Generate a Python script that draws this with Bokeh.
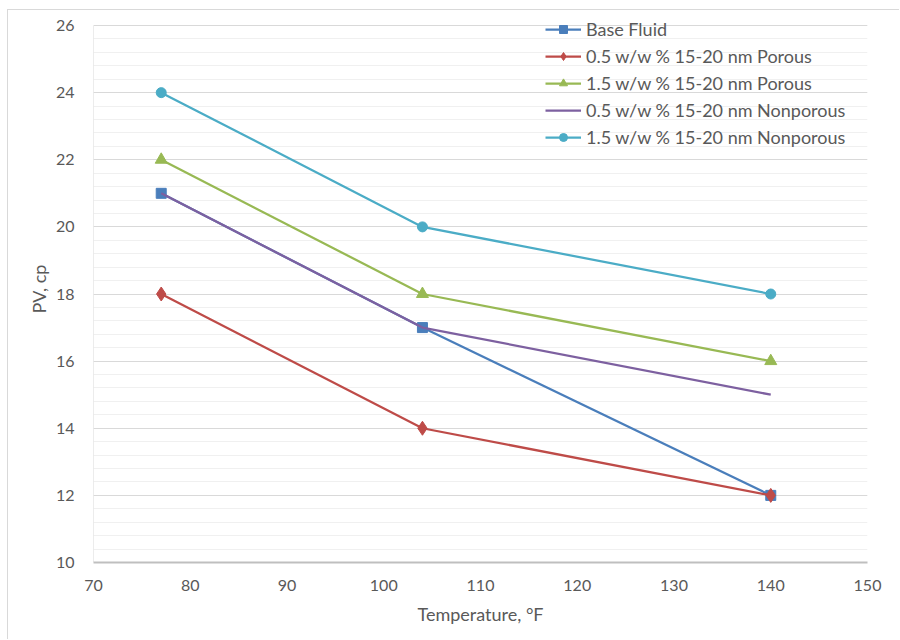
from bokeh.plotting import figure
from bokeh.models import (Legend, LegendItem, SingleIntervalTicker, FixedTicker, Range1d)
from bokeh.embed import file_html
from bokeh.resources import INLINE

# Temperatures (°F) and plastic viscosity (cp) for each fluid
temperature = [77, 104, 140]
base_fluid = [21, 17, 12]
porous_05 = [18, 14, 12]
porous_15 = [22, 18, 16]
nonporous_05 = [21, 17, 15]
nonporous_15 = [24, 20, 18]

series_names = [
    "Base Fluid",
    "0.5 w/w % 15-20 nm Porous",
    "1.5 w/w % 15-20 nm Porous",
    "0.5 w/w % 15-20 nm Nonporous",
    "1.5 w/w % 15-20 nm Nonporous",
]
x_ticks = [70, 80, 90, 100, 110, 120, 130, 140, 150]
y_min, y_max = 10, 26

FONT = "Lato"
TEXT = "#595959"

# a little headroom above the top gridline leaves space for the legend
p = figure(
    width=892, height=630,
    x_range=Range1d(70, 150), y_range=Range1d(y_min, y_max + 0.298),
    output_backend="svg", toolbar_location=None,
    min_border_left=85, min_border_right=33, min_border_top=5, min_border_bottom=78,
)
p.margin = (9, 0, 0, 7)
p.styles = {"border-left": "1px solid #d9d9d9", "border-top": "1px solid #d9d9d9"}
p.outline_line_color = None
p.background_fill_color = "white"
p.border_fill_color = "white"

# grid: horizontal only, major every 2, lighter minor lines between
p.xgrid.grid_line_color = None
p.yaxis.ticker = SingleIntervalTicker(interval=2, num_minor_ticks=5)
p.ygrid.grid_line_color = "#d9d9d9"
p.ygrid.grid_line_width = 1
p.ygrid.minor_grid_line_color = "#f0f0f0"
p.ygrid.minor_grid_line_width = 1
p.xaxis.ticker = FixedTicker(ticks=x_ticks)

for ax in (p.xaxis[0], p.yaxis[0]):
    ax.major_tick_line_color = None
    ax.minor_tick_line_color = None
    ax.major_label_text_font = FONT
    ax.major_label_text_font_size = "16px"
    ax.major_label_text_color = TEXT
    ax.axis_label_text_font = FONT
    ax.axis_label_text_font_size = "18px"
    ax.axis_label_text_font_style = "normal"
    ax.axis_label_text_color = TEXT

# left axis line stops at the top gridline
p.yaxis.axis_line_color = None
p.segment(x0=[70], y0=[y_min], x1=[70], y1=[y_max], line_color="#d9d9d9", line_width=1)
p.xaxis.axis_line_color = "#bfbfbf"
p.xaxis.axis_line_width = 2
p.yaxis.major_label_standoff = 13
p.xaxis.major_label_standoff = 11
p.yaxis.axis_label = "PV, cp"
p.xaxis.axis_label = "Temperature, °F"
p.yaxis.axis_label_standoff = 3
p.xaxis.axis_label_standoff = 9

LW = 2.25
items = []

r1 = p.line(temperature, base_fluid, line_color="#4a7ebb", line_width=LW)
m1 = p.scatter(temperature, base_fluid, marker="square", size=10,
               fill_color="#4a7ebb", line_color="#4a7ebb")
items.append(LegendItem(label=series_names[0], renderers=[r1, m1]))

r2 = p.line(temperature, porous_05, line_color="#be4b48", line_width=LW)
m2 = p.scatter(temperature, porous_05, marker="diamond", size=14,
               fill_color="#be4b48", line_color="#be4b48")
items.append(LegendItem(label=series_names[1], renderers=[r2, m2]))

r3 = p.line(temperature, porous_15, line_color="#98b954", line_width=LW)
m3 = p.scatter(temperature, porous_15, marker="triangle", size=12,
               fill_color="#98b954", line_color="#98b954")
items.append(LegendItem(label=series_names[2], renderers=[r3, m3]))

r4 = p.line(temperature, nonporous_05, line_color="#7d60a0", line_width=LW)
items.append(LegendItem(label=series_names[3], renderers=[r4]))

r5 = p.line(temperature, nonporous_15, line_color="#4bacc6", line_width=LW)
m5 = p.scatter(temperature, nonporous_15, marker="circle", size=10,
               fill_color="#4bacc6", line_color="#4bacc6")
items.append(LegendItem(label=series_names[4], renderers=[r5, m5]))

legend = Legend(items=items, location=(452, 414))
legend.padding = 0
legend.margin = 0
legend.spacing = 5
legend.label_height = 20
legend.glyph_height = 20
legend.glyph_width = 36
legend.label_standoff = 5
legend.border_line_color = None
legend.background_fill_alpha = 0
legend.label_text_font = FONT
legend.label_text_font_size = "18px"
legend.label_text_color = TEXT
p.add_layout(legend, "center")

open("out.html", "w").write(file_html(p, INLINE))
